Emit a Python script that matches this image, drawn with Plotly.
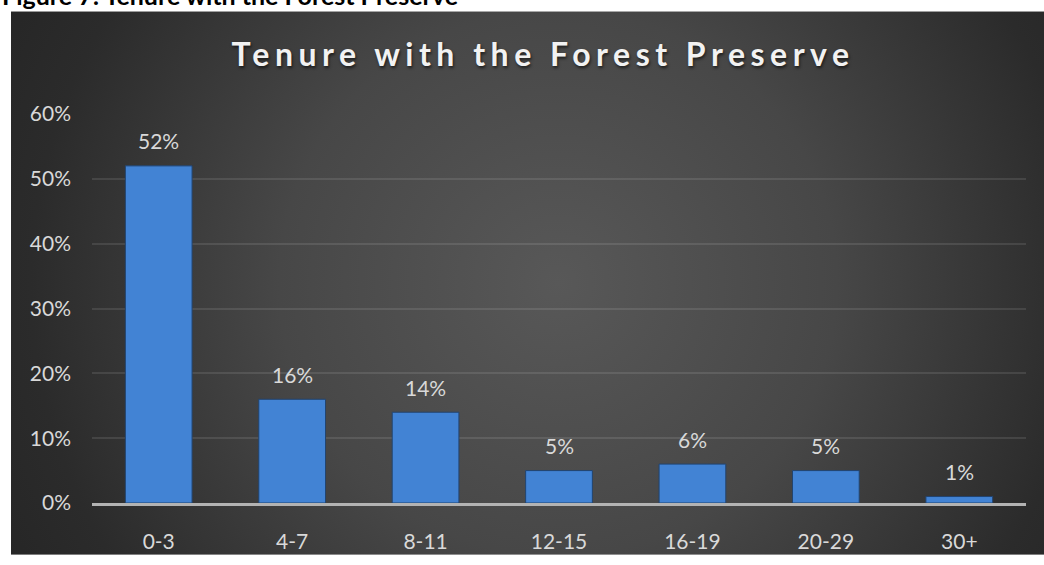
import base64
import plotly.graph_objects as go

# ---- data ----
categories = ["0-3", "4-7", "8-11", "12-15", "16-19", "20-29", "30+"]
values = [52, 16, 14, 5, 6, 5, 1]
y_ticks = [0, 10, 20, 30, 40, 50, 60]
y_tick_labels = ["0%", "10%", "20%", "30%", "40%", "50%", "60%"]
title_text = "Tenure with the Forest Preserve"
caption_text = "Figure 7: Tenure with the Forest Preserve"

# ---- layout geometry (pixels) ----
W, H = 1044, 565
L, R, T, B = 92, 18, 114, 53
PW, PH = W - L - R, H - T - B


def px_x(px):
    return (px - L) / PW


def px_y(py):
    return (H - B - py) / PH


# dark radial-gradient chart background (as an SVG image)
BX0, BY0, BX1, BY1 = 11, 9, W, H
bw, bh = BX1 - BX0, BY1 - BY0
svg = f"""<svg xmlns='http://www.w3.org/2000/svg' width='{bw}' height='{bh}' viewBox='0 0 {bw} {bh}'>
<defs><radialGradient id='g' gradientUnits='userSpaceOnUse' cx='{bw*0.53:.0f}' cy='{bh*0.5:.0f}' r='{bw*0.6:.0f}'>
<stop offset='0' stop-color='#585858'/>
<stop offset='0.45' stop-color='#474747'/>
<stop offset='0.85' stop-color='#2b2b2b'/>
<stop offset='1' stop-color='#262626'/>
</radialGradient></defs>
<rect width='{bw}' height='{bh}' fill='url(#g)'/></svg>"""
bg_uri = "data:image/svg+xml;base64," + base64.b64encode(svg.encode()).decode()

fig = go.Figure()
fig.add_trace(go.Bar(
    x=categories,
    y=values,
    marker=dict(color="#4283d4", line=dict(color="#22446f", width=1)),
    hoverinfo="skip",
))

label_font = dict(family="Lato", size=21, color="#d9d9d9")
for c, v in zip(categories, values):
    fig.add_annotation(x=c, y=v, text=f"{v}%", showarrow=False,
                       yshift=25, yanchor="middle", font=label_font)

fig.add_annotation(
    xref="paper", yref="paper", x=px_x(0), y=px_y(-8),
    xanchor="left", yanchor="middle", showarrow=False,
    text=f"<b>{caption_text}</b>",
    font=dict(family="Lato", size=25, color="#000000"),
)

fig.update_layout(
    width=W, height=H,
    margin=dict(l=L, r=R, t=T, b=B, pad=0),
    paper_bgcolor="white",
    plot_bgcolor="rgba(0,0,0,0)",
    showlegend=False,
    bargap=0.5,
    title=dict(
        text=f"<span style='letter-spacing:5.5px'>{title_text}</span>",
        x=543 / W, xanchor="center", xref="container",
        y=1 - 55 / H, yanchor="middle", yref="container",
        font=dict(family="Lato", size=32, color="#f2f2f2", weight="bold",
                  shadow="1px 2px 3px rgba(0,0,0,0.6)"),
    ),
    images=[dict(
        source=bg_uri, xref="paper", yref="paper",
        x=px_x(BX0), y=px_y(BY0),
        sizex=bw / PW, sizey=bh / PH,
        xanchor="left", yanchor="top", sizing="stretch", layer="below",
    )],
    xaxis=dict(
        showgrid=False, showline=True, linecolor="#b3b3b3", linewidth=2.5,
        ticks="", tickfont=dict(family="Lato", size=21, color="#d9d9d9"),
        ticklabelstandoff=18, fixedrange=True,
    ),
    yaxis=dict(
        range=[0, 60], tickmode="array", tickvals=y_ticks, ticktext=y_tick_labels,
        showgrid=True, gridcolor="rgba(255,255,255,0.1)", gridwidth=1.5,
        zeroline=False, showline=False, ticks="",
        tickfont=dict(family="Lato", size=21, color="#d9d9d9"),
        ticklabelstandoff=20, fixedrange=True,
    ),
)

fig.write_html("out.html", config={"displayModeBar": False})
